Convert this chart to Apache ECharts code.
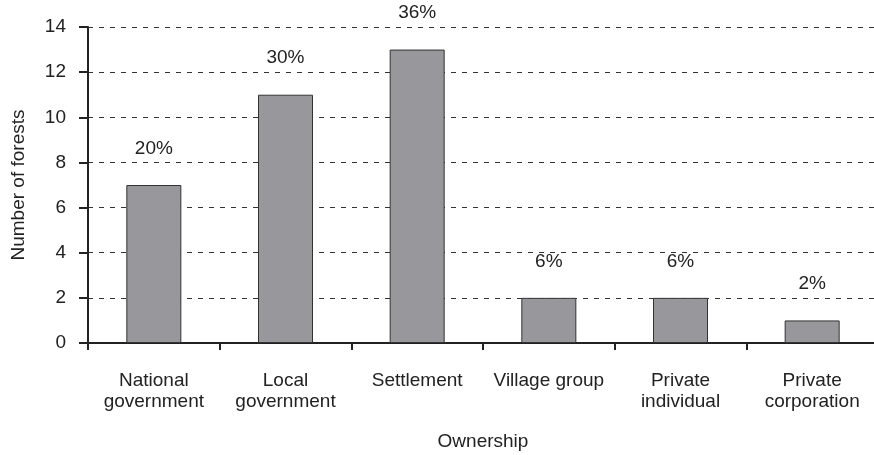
<!DOCTYPE html>
<html>
<head>
<meta charset="utf-8">
<script src="https://cdn.jsdelivr.net/npm/echarts@6/dist/echarts.min.js"></script>
<style>
  html, body { margin: 0; padding: 0; background: #fff; }
  #chart { width: 874px; height: 455px; }
</style>
</head>
<body>
<div id="chart"></div>
<script>
const categories = ['National\ngovernment', 'Local\ngovernment', 'Settlement', 'Village group', 'Private\nindividual', 'Private\ncorporation'];
const forests = [7, 11, 13, 2, 2, 1];
const shares = ['20%', '30%', '36%', '6%', '6%', '2%'];

const myChart = echarts.init(document.getElementById('chart'));
const font = 'Liberation Sans, Arial, sans-serif';

myChart.setOption({
  animation: false,
  grid: { left: 88, right: -4, top: 27, bottom: 112, outerBoundsMode: 'none' },
  xAxis: {
    type: 'category',
    data: categories,
    name: 'Ownership',
    nameLocation: 'middle',
    nameGap: 89,
    nameMoveOverlap: false,
    nameTextStyle: { fontFamily: font, fontSize: 19, color: '#222' },
    axisLine: { lineStyle: { color: '#222', width: 2 } },
    axisTick: { show: true, length: 7, lineStyle: { color: '#222', width: 2 } },
    axisLabel: {
      fontFamily: font, fontSize: 19, color: '#222',
      verticalAlign: 'top', lineHeight: 21, margin: 27, interval: 0
    }
  },
  yAxis: {
    type: 'value',
    min: 0, max: 14, interval: 2,
    name: 'Number of forests',
    nameLocation: 'middle',
    nameGap: 60,
    nameRotate: 90,
    nameMoveOverlap: false,
    nameTextStyle: { fontFamily: font, fontSize: 19, color: '#222' },
    axisLine: { show: true, lineStyle: { color: '#222', width: 2 } },
    axisTick: { show: true, length: 9, lineStyle: { color: '#222', width: 2 } },
    axisLabel: { fontFamily: font, fontSize: 19, color: '#222', margin: 22 },
    splitLine: { show: true, lineStyle: { color: '#333', type: [5, 6], width: 1 } }
  },
  series: [{
    type: 'bar',
    data: forests,
    barWidth: 55,
    itemStyle: { color: '#98979c', borderColor: '#333', borderWidth: 1 },
    label: {
      show: true,
      position: 'top',
      distance: 27,
      fontFamily: font,
      fontSize: 19,
      color: '#222',
      formatter: (p) => shares[p.dataIndex]
    }
  }]
});
</script>
</body>
</html>
